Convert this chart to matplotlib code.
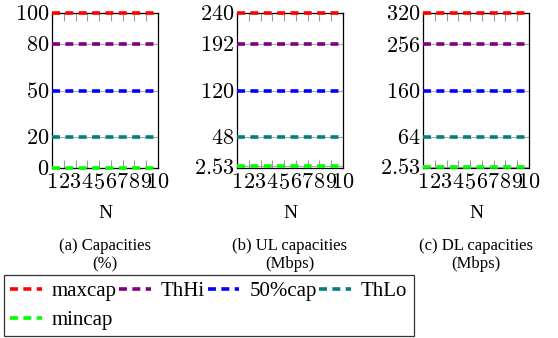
import matplotlib
matplotlib.use('Agg')
import matplotlib.pyplot as plt
import numpy as np

plt.rcParams['font.family'] = 'Liberation Serif'
plt.rcParams['mathtext.fontset'] = 'cm'

# Data
n_values = list(range(1, 11))
series_names = ['maxcap', 'ThHi', '50%cap', 'ThLo', 'mincap']
series_colors = ['#ff0000', '#800080', '#0000ff', '#008080', '#00ff00']

cap_pct = [100, 80, 50, 20, 0]
ul_mbps = [240, 192, 120, 48, 2.53]
dl_mbps = [320, 256, 160, 64, 2.53]

panels = [
    (cap_pct, ['0', '20', '50', '80', '100'], 100, '(a) Capacities\n(%)'),
    (ul_mbps, ['2.53', '48', '120', '192', '240'], 240, '(b) UL capacities\n(Mbps)'),
    (dl_mbps, ['2.53', '64', '160', '256', '320'], 320, '(c) DL capacities\n(Mbps)'),
]

W, H = 558, 338
fig = plt.figure(figsize=(W / 100, H / 100), dpi=100)
lefts = [52, 237, 423]
ax_w = 106
top, bottom = 13, 168

handles = {}
for i, (vals, labels, ymax, caption) in enumerate(panels):
    ax = fig.add_axes([lefts[i] / W, 1 - bottom / H, ax_w / W, (bottom - top) / H])
    for j, v in enumerate(vals):
        y = [v] * len(n_values)
        ax.plot(n_values, y, color='#aaaaaa', lw=0.8, zorder=2, clip_on=False)
        ln, = ax.plot(n_values, y, color=series_colors[j], lw=2.6,
                      dashes=(2.2, 1.5), zorder=3, clip_on=False,
                      label=series_names[j])
        if i == 0:
            handles[series_names[j]] = ln
    ax.set_xlim(1, 10)
    ax.set_ylim(0, ymax)
    ax.set_xticks(n_values)
    ax.set_xticklabels(['$%d$' % n for n in n_values], fontsize=16)
    ax.set_yticks(sorted(vals))
    ax.set_yticklabels(['$%s$' % s for s in labels], fontsize=16)
    ax.tick_params(axis='x', direction='in', top=True, length=6, width=0.8,
                   color='#999999', pad=4.5)
    ax.tick_params(axis='y', direction='in', right=True, length=6, width=0.8,
                   color='#999999', pad=2)
    for s in ax.spines.values():
        s.set_linewidth(0.9)
    ax.set_xlabel('N', fontsize=14, labelpad=8)
    cx = (lefts[i] + ax_w / 2) / W
    fig.text(cx, 1 - 255 / H, caption, ha='center', va='center',
             fontsize=12, linespacing=1.2)

# legend filled row by row: maxcap ThHi 50%cap ThLo / mincap
order = ['maxcap', 'mincap', 'ThHi', '50%cap', 'ThLo']
leg = fig.legend(handles=[handles[k] for k in order], loc='upper left',
                 bbox_to_anchor=(4 / W, 1 - 275 / H), ncol=4,
                 fontsize=15, frameon=True, fancybox=False,
                 edgecolor='black', handlelength=1.5, handletextpad=0.5,
                 columnspacing=0.12, borderpad=0.3, labelspacing=0.45,
                 borderaxespad=0)
leg.get_frame().set_linewidth(0.9)

fig.savefig('out.png', dpi=100)
